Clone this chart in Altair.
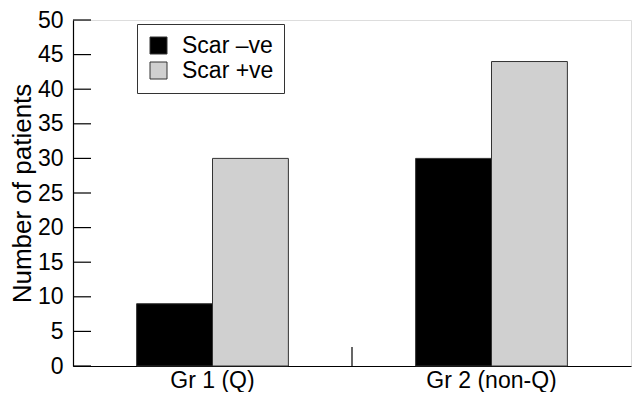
import altair as alt
import pandas as pd

groups = ["Gr 1 (Q)", "Gr 1 (Q)", "Gr 2 (non-Q)", "Gr 2 (non-Q)"]
scar = ["Scar –ve", "Scar +ve", "Scar –ve", "Scar +ve"]
patients = [9, 30, 30, 44]
group_order = ["Gr 1 (Q)", "Gr 2 (non-Q)"]
scar_order = ["Scar –ve", "Scar +ve"]
scar_colors = ["#000000", "#d0d0d0"]
y_ticks = [0, 5, 10, 15, 20, 25, 30, 35, 40, 45, 50]

df = pd.DataFrame({"group": groups, "scar": scar, "patients": patients})
ticks_df = pd.DataFrame({"v": y_ticks})
sep_df = pd.DataFrame({"group": [group_order[1]]})

W, H = 558, 346
FONT = "Liberation Sans"
P_IN, P_OUT = 0.456, 0.228
STEP = W / 2

xscale = alt.Scale(domain=group_order, paddingInner=P_IN, paddingOuter=P_OUT)
yscale = alt.Scale(domain=[0, 50], nice=False)

x_axis = alt.Axis(title=None, labelAngle=0, ticks=False, labelPadding=3,
                  labelFontSize=23, labelFont=FONT, labelColor="#000000",
                  domainColor="#000000", domainWidth=1.2)
y_axis = alt.Axis(title="Number of patients", values=y_ticks, ticks=False,
                  labelOverlap=False, labelPadding=10, labelFontSize=23,
                  labelFont=FONT, labelColor="#000000", titleFont=FONT,
                  titleFontSize=26, titleFontWeight="normal",
                  titleColor="#000000", titlePadding=2,
                  domainColor="#000000", domainWidth=1.2, grid=False)

bars = alt.Chart(df).mark_bar(stroke="#333333", strokeWidth=1).encode(
    x=alt.X("group:N", scale=xscale, sort=group_order, axis=x_axis),
    xOffset=alt.XOffset("scar:N", sort=scar_order),
    y=alt.Y("patients:Q", scale=yscale, axis=y_axis),
    color=alt.Color("scar:N", sort=scar_order,
                    scale=alt.Scale(domain=scar_order, range=scar_colors),
                    legend=alt.Legend(title=None, orient="none", legendX=64, legendY=4,
                                      symbolType="square", symbolSize=289,
                                      symbolStrokeColor="#333333", symbolStrokeWidth=1,
                                      labelFont=FONT, labelFontSize=23, labelColor="#000000",
                                      strokeColor="#333333", padding=10, rowPadding=1,
                                      labelOffset=12, fillColor="#ffffff")),
)

yt = alt.Chart(ticks_df).mark_rule(color="#000000", strokeWidth=1.2).encode(
    y=alt.Y("v:Q", scale=yscale, axis=y_axis),
    x=alt.value(0),
    x2=alt.value(18),
)

sep = alt.Chart(sep_df).mark_rule(color="#000000", strokeWidth=1.2,
                                  xOffset=-P_OUT * STEP).encode(
    x=alt.X("group:N", scale=xscale, sort=group_order, bandPosition=0, axis=x_axis),
    y=alt.value(H - 19),
    y2=alt.value(H),
)

chart = alt.layer(bars, yt, sep).properties(
    width=W, height=H,
    autosize=alt.AutoSizeParams(type="none"),
    padding={"left": 65, "top": 12, "right": 1, "bottom": 26},
).configure_view(stroke=None).configure(background="#ffffff")

chart.save("out.html", embed_options={"renderer": "svg", "actions": False})
